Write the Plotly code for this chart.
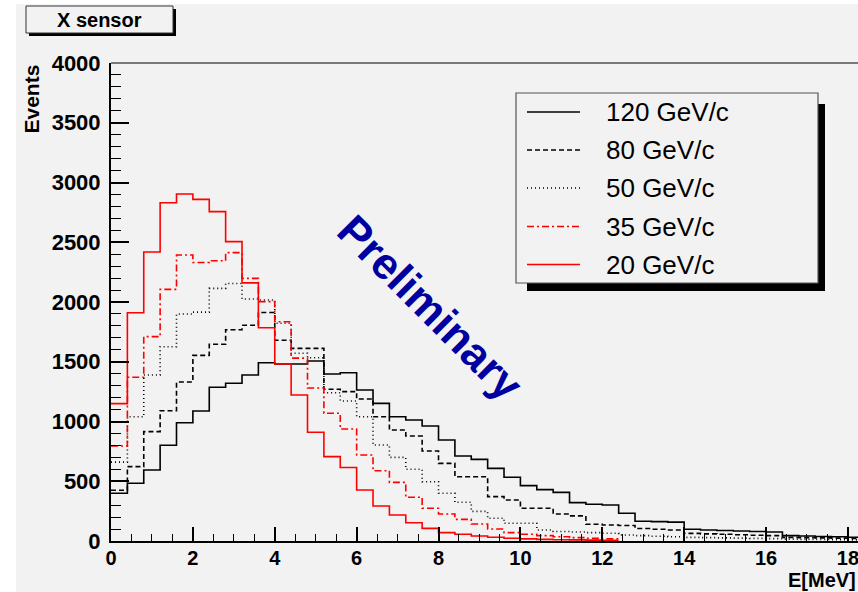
import numpy as np
import plotly.graph_objects as go

# Energy deposit spectra in the X sensor, 0.4 MeV bins starting at 0
bin_width = 0.4

e120 = [400, 483, 594, 801, 990, 1088, 1286, 1320, 1389, 1492, 1481, 1481, 1506,
        1397, 1408, 1264, 1152, 1040, 1013, 962, 845, 711, 683, 608, 533, 463, 430,
        407, 321, 307, 301, 232, 165, 162, 158, 98, 92, 88, 84, 80, 75, 45, 42, 38,
        35, 32, 28, 22, 20, 18]
e80 = [425, 622, 915, 1090, 1330, 1553, 1646, 1768, 1805, 1912, 1680, 1612, 1612,
       1270, 1250, 1188, 1040, 929, 879, 753, 650, 538, 538, 371, 343, 274, 274, 226,
       210, 140, 134, 130, 104, 98, 92, 64, 60, 56, 52, 48, 45, 30, 28, 26, 24, 22,
       20, 18, 16, 14]
e50 = [660, 1040, 1389, 1626, 1900, 1915, 2114, 2155, 2025, 2017, 1822, 1571, 1534,
       1241, 1172, 1040, 803, 700, 600, 496, 399, 324, 248, 190, 148, 148, 92, 80,
       75, 70, 65, 50, 45, 40, 35, 30, 28, 26, 24, 22, 20, 16, 14, 12, 10, 9, 8, 7,
       6, 5]
e35 = [795, 1370, 1710, 2106, 2393, 2330, 2345, 2413, 2198, 2003, 1835, 1530, 1280,
       1069, 937, 720, 588, 491, 366, 274, 226, 181, 142, 100, 70, 56, 45, 35, 28,
       22, 18]
e20 = [1150, 1910, 2418, 2831, 2904, 2859, 2756, 2505, 2160, 1785, 1481, 1222, 910,
       706, 615, 427, 293, 218, 153, 106, 70, 56, 42, 31, 23, 18, 14, 11, 9, 7, 6]

labels = ["120 GeV/c", "80 GeV/c", "50 GeV/c", "35 GeV/c", "20 GeV/c"]
series = [e120, e80, e50, e35, e20]
colors = ["black", "black", "black", "#ff0000", "#ff0000"]
dashes = ["solid", "5px,3px", "1px,3px", "7px,3px,2px,3px", "solid"]

x_ticks = [0, 2, 4, 6, 8, 10, 12, 14, 16, 18]
y_ticks = [0, 500, 1000, 1500, 2000, 2500, 3000, 3500, 4000]

W, H = 858, 592
L, R, T, B = 111, 0, 63, 51
PW, PH = W - L - R, H - T - B

FONT = "Liberation Sans, Arial, sans-serif"


def px(p):
    return (p - L) / PW


def py(p):
    return (H - B - p) / PH


fig = go.Figure()

for vals, name, col, dash in zip(series, labels, colors, dashes):
    edges = np.arange(len(vals) + 1) * bin_width
    ys = list(vals) + [vals[-1]]
    fig.add_trace(go.Scatter(
        x=edges, y=ys, mode="lines", name=name, showlegend=False,
        line=dict(shape="hv", color=col, width=1.6, dash=dash),
        hoverinfo="skip"))

fig.update_xaxes(
    range=[0, PW / 40.94], tickvals=x_ticks, ticktext=[str(v) for v in x_ticks],
    ticks="inside", ticklen=14, tickwidth=1.5, tickcolor="black",
    minor=dict(dtick=0.5, ticks="inside", ticklen=7, tickwidth=1.2,
               tickcolor="black", tick0=0),
    showline=True, linecolor="black", linewidth=2, showgrid=False,
    zeroline=False, ticklabeloverflow="allow", ticklabelstandoff=-2,
    tickfont=dict(family=FONT, size=20, color="black", weight="bold"))
fig.update_yaxes(
    range=[0, 4000], tickvals=y_ticks, ticktext=[str(v) for v in y_ticks],
    ticks="inside", ticklen=18, tickwidth=1.5, tickcolor="black",
    minor=dict(dtick=100, ticks="inside", ticklen=10, tickwidth=1.2,
               tickcolor="black", tick0=0),
    showline=True, linecolor="black", linewidth=2, showgrid=False,
    zeroline=False, ticklabelstandoff=4,
    tickfont=dict(family=FONT, size=22, color="black", weight="bold"))

shapes = [
    # canvas area
    dict(type="rect", xref="paper", yref="paper", x0=px(16), x1=px(W + 5),
         y0=py(H + 5), y1=py(4), fillcolor="#f2f2f2", line=dict(width=0),
         layer="below"),
    # top edge of the frame
    dict(type="line", xref="paper", yref="paper", x0=0, x1=1, y0=1, y1=1,
         line=dict(color="black", width=1)),
    # title box with shadow
    dict(type="rect", xref="paper", yref="paper", x0=px(29), x1=px(176),
         y0=py(36), y1=py(9), fillcolor="black", line=dict(width=0)),
    dict(type="rect", xref="paper", yref="paper", x0=px(26), x1=px(173),
         y0=py(33), y1=py(6), fillcolor="#f2f2f2",
         line=dict(color="#333333", width=1)),
    # legend box with shadow
    dict(type="rect", xref="paper", yref="paper", x0=px(527), x1=px(825),
         y0=py(291), y1=py(104), fillcolor="black", line=dict(width=0)),
    dict(type="rect", xref="paper", yref="paper", x0=px(516), x1=px(818),
         y0=py(283), y1=py(93), fillcolor="#f2f2f2",
         line=dict(color="#555555", width=1.2)),
]

annotations = [
    dict(text="X sensor", xref="paper", yref="paper", x=px(99.5), y=py(19.5),
         showarrow=False, xanchor="center", yanchor="middle",
         font=dict(family=FONT, size=20, color="black", weight="bold")),
    dict(text="Events", xref="paper", yref="paper", x=px(31), y=1.0,
         showarrow=False, textangle=-90, xanchor="center", yanchor="top",
         font=dict(family=FONT, size=21, color="black", weight="bold")),
    dict(text="E[MeV]", xref="paper", yref="paper", x=px(857), y=py(592),
         showarrow=False, xanchor="right", yanchor="bottom", borderpad=0,
         font=dict(family=FONT, size=20, color="black", weight="bold")),
    dict(text="Preliminary", xref="paper", yref="paper", x=px(431), y=py(307),
         showarrow=False, textangle=45, xanchor="center", yanchor="middle",
         font=dict(family=FONT, size=44, color="#0000a0", weight="bold")),
]

row_y = [112, 150, 188, 226.5, 264.5]
for name, col, dash, ry in zip(labels, colors, dashes, row_y):
    shapes.append(dict(type="line", xref="paper", yref="paper", x0=px(527),
                       x1=px(580), y0=py(ry), y1=py(ry),
                       line=dict(color=col, width=1.4, dash=dash)))
    annotations.append(dict(text=name, xref="paper", yref="paper", x=px(604),
                            y=py(ry), showarrow=False, xanchor="left",
                            yanchor="middle",
                            font=dict(family=FONT, size=26, color="black")))

fig.update_layout(
    width=W, height=H, margin=dict(l=L, r=R, t=T, b=B, pad=0),
    paper_bgcolor="white", plot_bgcolor="#f2f2f2",
    shapes=shapes, annotations=annotations, showlegend=False)

fig.write_html("out.html")
